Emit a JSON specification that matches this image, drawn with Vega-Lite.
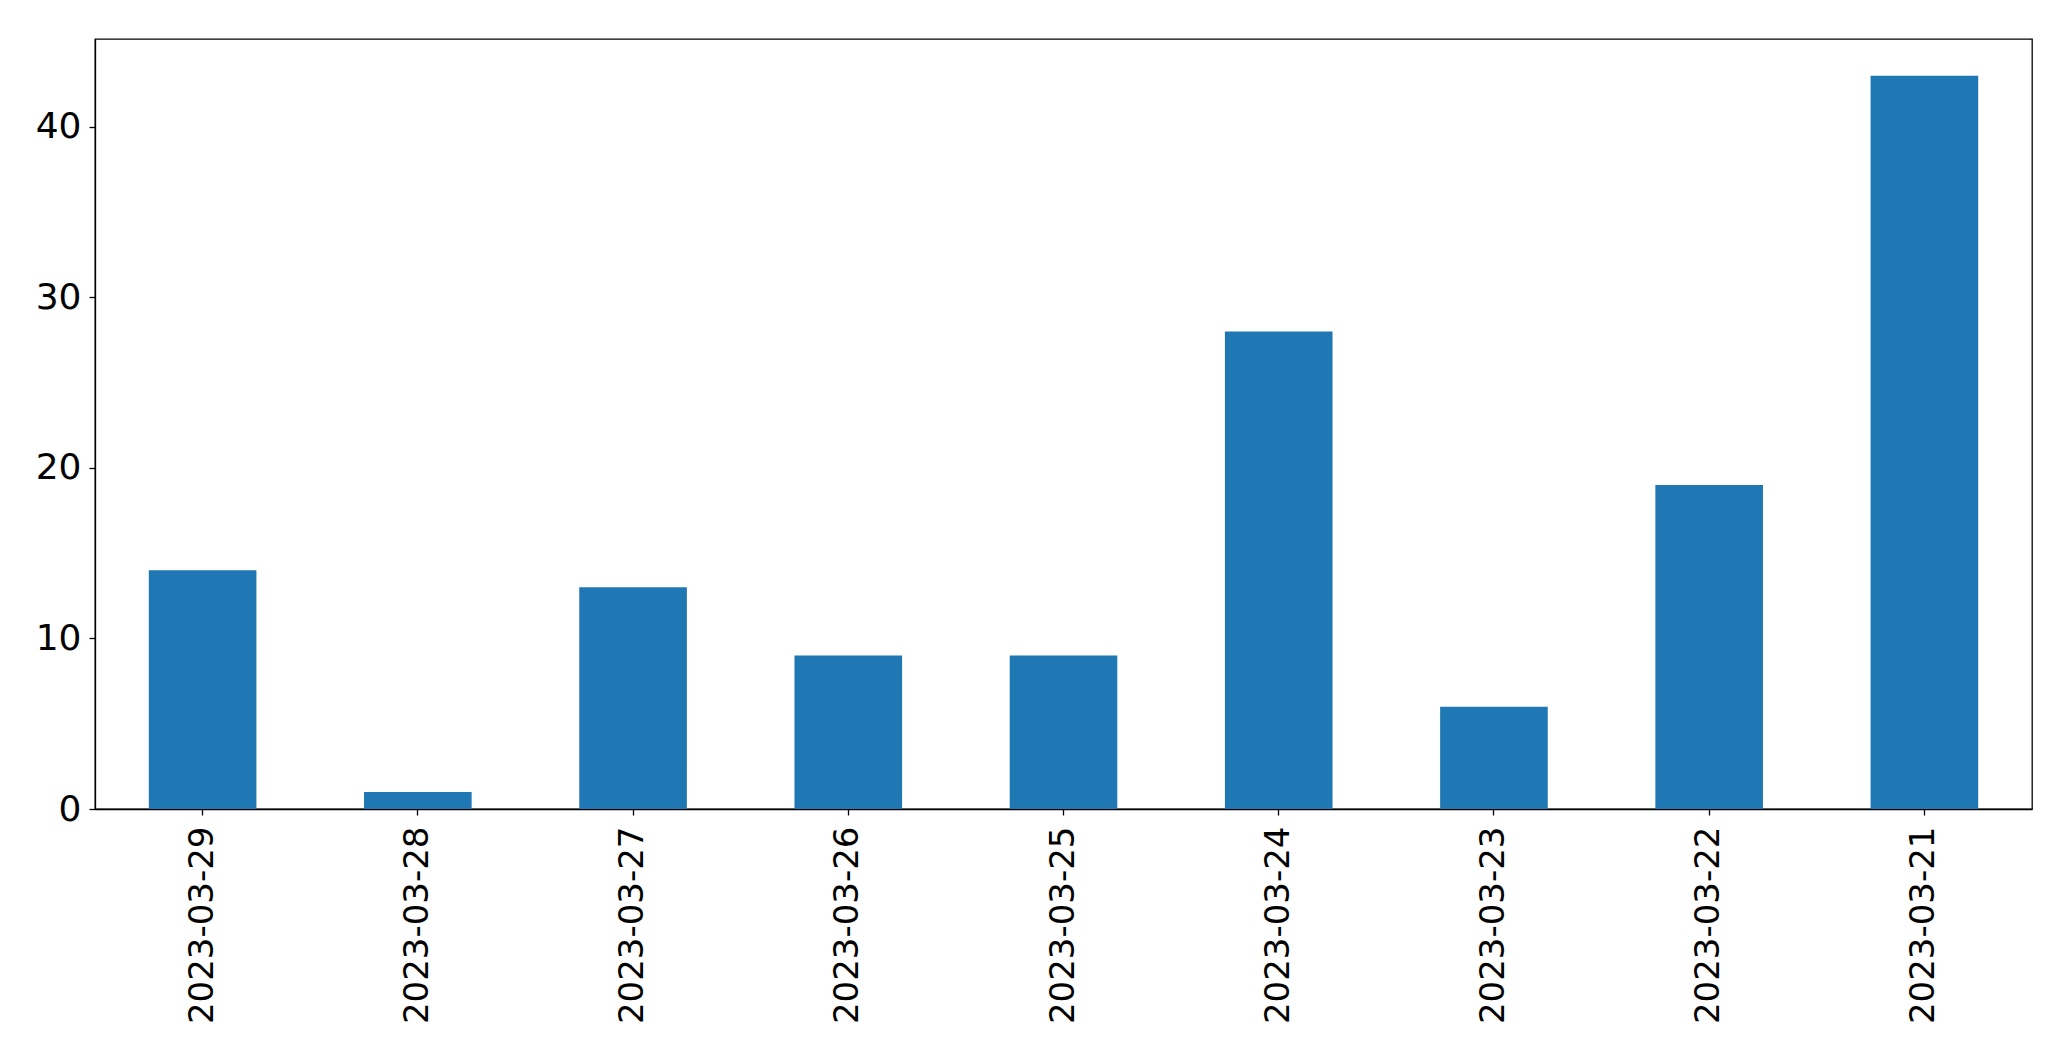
{
  "$schema": "https://vega.github.io/schema/vega-lite/v6.json",
  "width": 1937,
  "height": 770,
  "autosize": {"type": "none"},
  "padding": {"left": 95, "top": 39, "right": 39, "bottom": 252},
  "background": "white",
  "config": {
    "view": {"stroke": "black", "strokeWidth": 1.3},
    "font": "DejaVu Sans"
  },
  "data": {
    "values": [
      {"date": "2023-03-29", "count": 14},
      {"date": "2023-03-28", "count": 1},
      {"date": "2023-03-27", "count": 13},
      {"date": "2023-03-26", "count": 9},
      {"date": "2023-03-25", "count": 9},
      {"date": "2023-03-24", "count": 28},
      {"date": "2023-03-23", "count": 6},
      {"date": "2023-03-22", "count": 19},
      {"date": "2023-03-21", "count": 43}
    ]
  },
  "mark": {"type": "bar", "color": "#1f77b4"},
  "encoding": {
    "x": {
      "field": "date",
      "type": "nominal",
      "sort": null,
      "scale": {"paddingInner": 0.5, "paddingOuter": 0.25},
      "axis": {
        "title": null,
        "labelAngle": -90,
        "labelFont": "DejaVu Sans",
        "labelFontSize": 34,
        "labelLimit": 0,
        "labelColor": "black",
        "labelPadding": 11,
        "tickColor": "black",
        "tickSize": 6,
        "tickWidth": 1.3,
        "domainColor": "black",
        "domainWidth": 1.3
      }
    },
    "y": {
      "field": "count",
      "type": "quantitative",
      "scale": {"domain": [0, 45.15], "nice": false},
      "axis": {
        "title": null,
        "values": [0, 10, 20, 30, 40],
        "grid": false,
        "labelFont": "DejaVu Sans",
        "labelFontSize": 36,
        "labelColor": "black",
        "labelPadding": 8,
        "tickColor": "black",
        "tickSize": 6,
        "tickWidth": 1.3,
        "domainColor": "black",
        "domainWidth": 1.3
      }
    }
  }
}
